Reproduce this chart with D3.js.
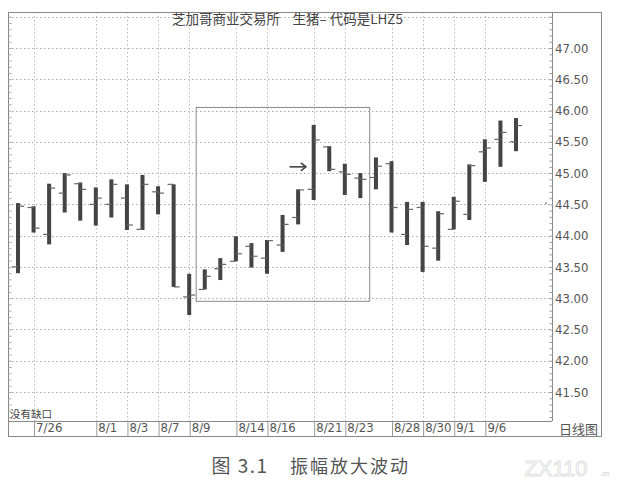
<!DOCTYPE html>
<html><head><meta charset="utf-8">
<script src="https://cdn.jsdelivr.net/npm/d3@7"></script>
<style>
body{margin:0;background:#fff;}
svg{display:block;}
.nar{font-family:"Liberation Sans Narrow","DejaVu Sans Condensed","Liberation Sans",sans-serif;}
.cjk{font-family:"Noto Sans CJK SC","Noto Sans",sans-serif;}
</style>
</head><body>
<svg id="c" width="621" height="486"></svg>
<script>
const dates = ["7/25","7/26","7/27","7/28","7/31","8/1","8/2","8/3","8/4","8/7","8/8","8/9","8/10","8/11","8/14","8/15","8/16","8/17","8/18","8/21","8/22","8/23","8/24","8/25","8/28","8/29","8/30","8/31","9/1","9/5","9/6","9/7","9/8"];
const openP  = [43.50,44.45,44.02,44.68,44.83,44.50,44.50,44.60,44.10,44.70,44.82,43.02,43.14,43.47,43.59,43.83,43.64,43.85,44.29,44.74,45.42,45.02,44.92,44.93,45.15,44.02,44.45,43.80,44.10,44.34,45.34,45.54,45.50];
const highP  = [44.52,44.47,44.83,45.00,44.85,44.77,44.90,44.82,44.97,44.79,44.82,43.39,43.46,43.64,43.99,43.88,43.93,44.33,44.74,45.77,45.43,45.15,45.00,45.25,45.19,44.54,44.54,44.39,44.62,45.14,45.54,45.84,45.88];
const lowP   = [43.40,44.05,43.86,44.37,44.24,44.16,44.29,44.09,44.09,44.34,43.18,42.73,43.14,43.29,43.59,43.49,43.39,43.74,44.18,44.57,45.03,44.65,44.60,44.74,44.05,43.85,43.42,43.60,44.10,44.25,44.86,45.10,45.35];
const closeP = [44.47,44.12,44.76,44.97,44.74,44.60,44.82,44.17,44.82,44.68,43.18,43.05,43.35,43.54,43.71,43.67,43.92,44.18,44.73,45.53,45.06,44.98,44.90,45.11,44.45,44.42,43.83,44.35,44.55,45.12,45.40,45.65,45.76];
const labeledDates = ["7/26","8/1","8/3","8/7","8/9","8/14","8/16","8/21","8/23","8/28","8/30","9/1","9/6"];
const yTicks = [41.5,42.0,42.5,43.0,43.5,44.0,44.5,45.0,45.5,46.0,46.5,47.0];
const gridPrices = [41.5,42.0,42.5,43.0,43.5,44.0,44.5,45.0,45.5,46.0,46.5,47.0,47.5];
const minorPrices = d3.range(411,476).map(v=>v/10);
const boxRange = {fromIdx:11.45, toIdx:22.6, hi:46.05, lo:42.95};
const arrowAt = {fromIdx:17.45, toIdx:18.5, price:45.10};
const title1 = "芝加哥商业交易所", title2 = "生猪– 代码是LHZ5";
const caption1 = "图 3.1", caption2 = "振幅放大波动";

const svg = d3.select("#c");
svg.append("rect").attr("width",621).attr("height",486).attr("fill","#fff");
const L=8, R=552, T=12, B=421, OR=601, OB=436;
const x = d3.scalePoint().domain(dates).range([18,516]);
const step = x.step();
const xi = i => x(dates[0]) + i*step;
const y = d3.scaleLinear().domain([41.5,47]).range([392,48]);

// grid
const g = svg.append("g");
g.selectAll("line.h").data(gridPrices).join("line")
 .attr("x1",L).attr("x2",R).attr("y1",d=>Math.round(y(d))+0.5).attr("y2",d=>Math.round(y(d))+0.5)
 .attr("stroke","#aaa").attr("stroke-dasharray","1.5,2.5");
g.selectAll("line.v").data(labeledDates).join("line")
 .attr("y1",T).attr("y2",B).attr("x1",d=>Math.round(x(d))+0.5).attr("x2",d=>Math.round(x(d))+0.5)
 .attr("stroke","#bbb").attr("stroke-dasharray","1.5,2.5");

// frame
svg.append("rect").attr("x",L+0.5).attr("y",T+0.5).attr("width",OR-L).attr("height",OB-T)
 .attr("fill","none").attr("stroke","#888");
svg.append("line").attr("x1",L).attr("x2",R).attr("y1",B+0.5).attr("y2",B+0.5).attr("stroke","#888");

// right axis
const ya = svg.append("g").attr("transform",`translate(${R+0.5},0)`)
 .call(d3.axisLeft(y).tickValues(minorPrices).tickSize(3).tickFormat(""));
ya.select(".domain").attr("d",`M0,${T}V${B}`).attr("stroke","#888");
ya.selectAll(".tick line").attr("stroke","#999");
const yl = svg.append("g").attr("transform",`translate(${R+1},0)`)
 .call(d3.axisRight(y).tickValues(yTicks).tickSize(0).tickPadding(2).tickFormat(d3.format(".2f")));
yl.select(".domain").remove();
yl.selectAll("text").attr("class","nar").attr("font-size",13).attr("fill","#555");
// left edge minor ticks
const la = svg.append("g").attr("transform",`translate(${L+0.5},0)`)
 .call(d3.axisRight(y).tickValues(minorPrices).tickSize(3).tickFormat(""));
la.select(".domain").remove();
la.selectAll(".tick line").attr("stroke","#aaa");

// bottom axis
const xa = svg.append("g").attr("transform",`translate(0,${B})`)
 .call(d3.axisBottom(x).tickValues(labeledDates).tickSize(15).tickPadding(0));
xa.select(".domain").remove();
xa.selectAll(".tick line").attr("stroke","#999").attr("transform","translate(0.5,0)");
xa.selectAll(".tick text").attr("class","nar").attr("font-size",13).attr("fill","#555")
 .attr("text-anchor","start").attr("x",2).attr("y",2);

svg.append("text").attr("class","cjk").attr("x",598).attr("y",434).attr("text-anchor","end")
 .attr("font-size",13).attr("fill","#555").text("日线图");
svg.append("text").attr("class","cjk").attr("x",10).attr("y",418)
 .attr("font-size",10.5).attr("fill","#444").text("没有缺口");
svg.append("text").attr("class","cjk").attr("x",172).attr("y",24)
 .attr("font-size",13.5).attr("fill","#444").text(title1);
svg.append("text").attr("class","cjk").attr("x",403).attr("y",24).attr("text-anchor","end")
 .attr("font-size",13.5).attr("fill","#444").text(title2);

// box
svg.append("rect").attr("x",xi(boxRange.fromIdx)).attr("y",y(boxRange.hi))
 .attr("width",xi(boxRange.toIdx)-xi(boxRange.fromIdx)).attr("height",y(boxRange.lo)-y(boxRange.hi))
 .attr("fill","none").attr("stroke","#888").attr("stroke-width",1);

// bars
const bars = svg.append("g");
dates.forEach((d,i)=>{
  const cx = x(d);
  bars.append("rect").attr("x",cx-2).attr("width",4)
   .attr("y",y(highP[i])).attr("height",Math.max(1,y(lowP[i])-y(highP[i]))).attr("fill","#444");
  bars.append("line").attr("x1",cx-6).attr("x2",cx).attr("y1",y(openP[i])).attr("y2",y(openP[i]))
   .attr("stroke","#666").attr("stroke-width",1.2);
  bars.append("line").attr("x1",cx).attr("x2",cx+6).attr("y1",y(closeP[i])).attr("y2",y(closeP[i]))
   .attr("stroke","#666").attr("stroke-width",1.2);
});

// arrow
const ay = y(arrowAt.price), ax1 = xi(arrowAt.fromIdx), ax2 = xi(arrowAt.toIdx);
svg.append("line").attr("x1",ax1).attr("x2",ax2).attr("y1",ay).attr("y2",ay).attr("stroke","#444").attr("stroke-width",1.6);
svg.append("path").attr("d",`M${ax2-5},${ay-4}L${ax2},${ay}L${ax2-5},${ay+4}`).attr("fill","none").attr("stroke","#444").attr("stroke-width",1.6);

// small marker on axis
svg.append("circle").attr("cx",R-6).attr("cy",y(44.52)).attr("r",0.9).attr("fill","#777");

// caption
svg.append("text").attr("class","cjk").attr("x",240).attr("y",473).attr("text-anchor","middle")
 .attr("font-size",19).attr("fill","#555").attr("letter-spacing",1.5).text(caption1);
svg.append("text").attr("class","cjk").attr("x",350).attr("y",473).attr("text-anchor","middle")
 .attr("font-size",18).attr("fill","#555").attr("letter-spacing",2).text(caption2);
svg.append("text").attr("x",556).attr("y",476).attr("text-anchor","middle")
 .attr("font-family","Liberation Sans,sans-serif").attr("font-size",22).attr("fill","none")
 .attr("stroke","#e2e2e2").attr("stroke-width",1).text("ZX110");
svg.append("text").attr("x",600).attr("y",476).attr("font-family","Liberation Sans,sans-serif")
 .attr("font-size",7).attr("fill","#ccc").text(".cn");
</script>
</body></html>
